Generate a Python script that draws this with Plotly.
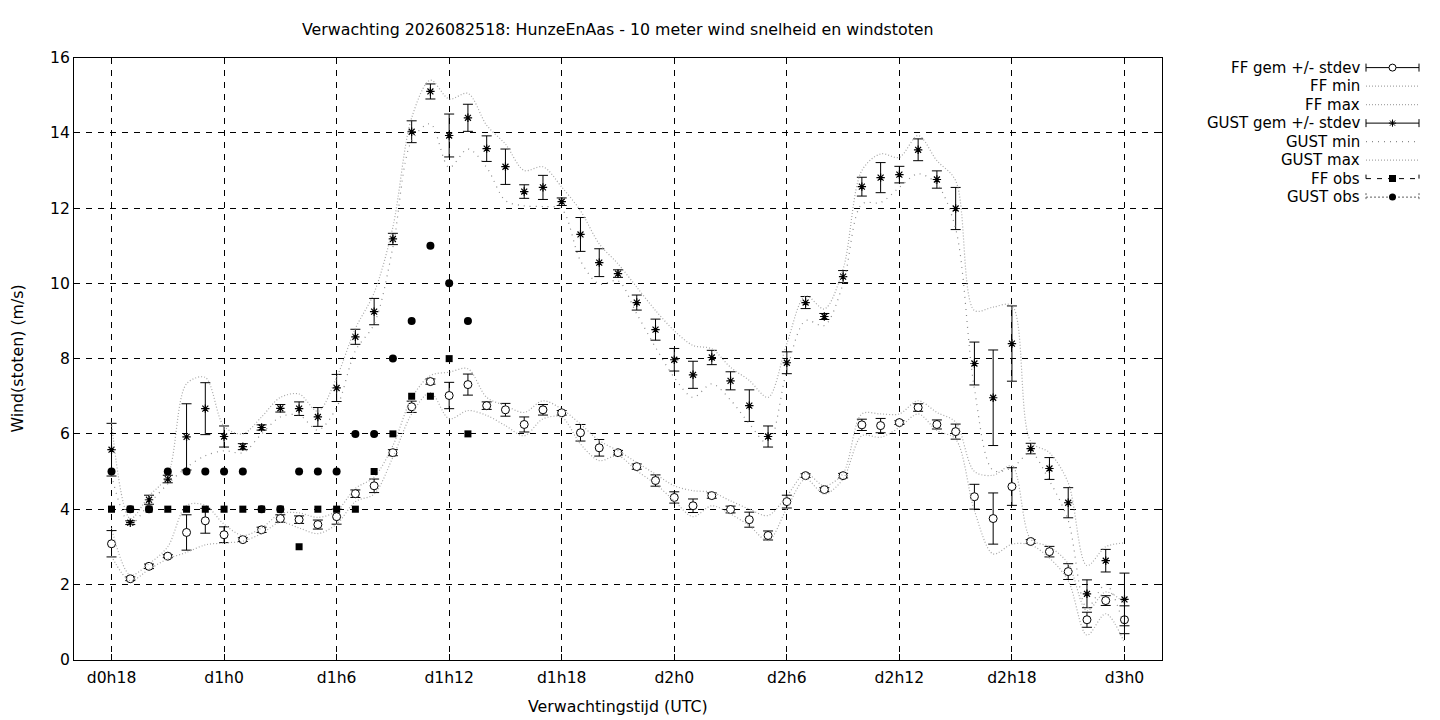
import plotly.graph_objects as go

# ---------------- data ----------------
hours = list(range(18, 73))  # forecast hour since d0h0

ff_mean = [3.08, 2.15, 2.48, 2.75, 3.38, 3.69, 3.32, 3.19, 3.45, 3.75,
           3.72, 3.59, 3.80, 4.41, 4.62, 5.50, 6.72, 7.39, 7.02, 7.31,
           6.75, 6.64, 6.25, 6.64, 6.56, 6.03, 5.63, 5.50, 5.13, 4.76,
           4.31, 4.09, 4.36, 3.99, 3.72, 3.30, 4.20, 4.89, 4.52, 4.89,
           6.24, 6.22, 6.30, 6.70, 6.25, 6.06, 4.33, 3.75, 4.60, 3.14,
           2.87, 2.34, 1.06, 1.57, 1.06]
ff_std = [0.35, 0.05, 0.06, 0.04, 0.47, 0.33, 0.21, 0.05, 0.07, 0.10,
          0.10, 0.12, 0.20, 0.10, 0.18, 0.08, 0.15, 0.07, 0.35, 0.28,
          0.10, 0.17, 0.20, 0.14, 0.06, 0.22, 0.22, 0.06, 0.07, 0.15,
          0.15, 0.18, 0.07, 0.09, 0.20, 0.12, 0.17, 0.05, 0.05, 0.06,
          0.15, 0.19, 0.05, 0.10, 0.12, 0.20, 0.33, 0.68, 0.50, 0.05,
          0.14, 0.21, 0.20, 0.13, 0.37]
ff_min = [2.75, 2.10, 2.40, 2.68, 2.85, 3.05, 3.10, 3.15, 3.35, 3.65,
          3.50, 3.35, 3.60, 4.20, 4.40, 5.38, 6.53, 7.10, 6.40, 6.62,
          6.49, 6.22, 5.95, 6.40, 6.44, 5.73, 5.29, 5.42, 5.02, 4.67,
          4.22, 3.80, 4.09, 3.87, 3.56, 3.16, 4.02, 4.80, 4.40, 4.80,
          5.95, 5.91, 6.17, 6.53, 6.09, 5.86, 3.96, 2.81, 3.07, 3.05,
          2.70, 2.10, 0.65, 1.22, 0.45]
ff_max = [3.50, 2.25, 2.55, 3.00, 4.10, 4.10, 3.60, 3.30, 3.50, 3.88,
          3.90, 3.78, 3.95, 4.55, 4.85, 5.69, 6.95, 7.55, 7.64, 7.73,
          6.97, 6.75, 6.57, 6.88, 6.66, 6.26, 5.82, 5.55, 5.24, 4.93,
          4.62, 4.49, 4.45, 4.22, 4.00, 3.83, 4.35, 4.95, 4.62, 4.95,
          6.53, 6.53, 6.53, 6.88, 6.57, 6.31, 5.00, 4.90, 5.15, 3.20,
          3.00, 2.55, 1.30, 1.80, 1.50]

gust_mean = [5.58, 3.64, 4.25, 4.80, 5.92, 6.67, 5.93, 5.66, 6.17, 6.68,
             6.67, 6.45, 7.22, 8.58, 9.25, 11.18, 14.03, 15.10, 13.93, 14.40,
             13.58, 13.10, 12.44, 12.55, 12.17, 11.30, 10.55, 10.26, 9.49, 8.77,
             7.97, 7.57, 8.03, 7.41, 6.75, 5.93, 7.89, 9.49, 9.12, 10.18,
             12.57, 12.81, 12.89, 13.55, 12.76, 11.99, 7.87, 6.96, 8.40, 5.61,
             5.08, 4.17, 1.75, 2.63, 1.60]
gust_std = [0.70, 0.05, 0.12, 0.10, 0.88, 0.69, 0.28, 0.08, 0.07, 0.10,
            0.18, 0.25, 0.36, 0.20, 0.35, 0.15, 0.29, 0.20, 0.57, 0.36,
            0.34, 0.47, 0.18, 0.32, 0.10, 0.45, 0.37, 0.10, 0.20, 0.28,
            0.30, 0.36, 0.19, 0.24, 0.42, 0.28, 0.29, 0.16, 0.08, 0.16,
            0.25, 0.40, 0.22, 0.29, 0.23, 0.56, 0.57, 1.27, 1.00, 0.14,
            0.29, 0.40, 0.37, 0.30, 0.70]
gust_min = [4.90, 3.60, 4.14, 4.67, 5.11, 5.42, 5.55, 5.50, 6.00, 6.45,
            6.50, 6.10, 6.70, 8.21, 8.92, 10.96, 13.79, 14.24, 13.08, 13.57,
            13.08, 12.20, 12.06, 12.04, 11.97, 10.60, 9.98, 10.07, 9.19, 8.30,
            7.50, 6.97, 7.33, 6.90, 6.27, 5.74, 7.69, 9.01, 8.88, 9.99,
            12.11, 12.15, 12.55, 12.91, 12.64, 11.45, 7.20, 5.03, 5.10, 5.50,
            4.75, 3.70, 1.38, 2.00, 0.85]
gust_max = [6.30, 3.75, 4.35, 4.90, 7.33, 7.50, 6.20, 6.00, 6.45, 6.97,
            7.06, 6.60, 7.50, 8.80, 9.75, 11.50, 14.40, 15.40, 14.90, 15.05,
            14.20, 13.70, 13.00, 13.10, 12.56, 11.93, 11.05, 10.52, 9.90, 9.28,
            8.74, 8.35, 8.26, 7.77, 7.42, 6.97, 8.40, 9.67, 9.32, 10.38,
            13.00, 13.44, 13.35, 13.93, 13.26, 12.73, 9.28, 9.37, 9.41, 5.80,
            5.50, 4.70, 2.50, 3.00, 3.10]

obs_hours = list(range(18, 38))
ff_obs = [4, 4, 4, 4, 4, 4, 4, 4, 4, 4, 3, 4, 4, 4, 5, 6, 7, 7, 8, 6]
gust_obs = [5, 4, 4, 5, 5, 5, 5, 5, 4, 4, 5, 5, 5, 6, 6, 8, 9, 11, 10, 9]

tick_hours = [18, 24, 30, 36, 42, 48, 54, 60, 66, 72]
tick_labels = ["d0h18", "d1h0", "d1h6", "d1h12", "d1h18",
               "d2h0", "d2h6", "d2h12", "d2h18", "d3h0"]

legend_labels = ["FF gem +/- stdev", "FF min", "FF max", "GUST gem +/- stdev",
                 "GUST min", "GUST max", "FF obs", "GUST obs"]

title_text = "Verwachting 2026082518: HunzeEnAas - 10 meter wind snelheid en windstoten"
xtitle = "Verwachtingstijd (UTC)"
ytitle = "Wind(stoten) (m/s)"

# ---------------- styles / geometry ----------------
OFFX = 8                      # page body margin (horizontal)
VY0, VK = 16.4, 0.975         # measured vertical mapping window_y = VY0 + VK * fig_y
W, H = 1440 - 2 * OFFX, 722
PL, PR, PT, PB = 74, 1162, 57, 659   # plot box in window pixels
FONT = "DejaVu Sans"
light = "#a8a8a8"
dark = "#8a8a8a"


def pxx(X):
    return (X - OFFX) / W


def pxy(Y):
    return 1 - ((Y - VY0) / VK) / H


env_styles = {
    "FF min": dict(color=light, dash="1px,2px"),
    "FF max": dict(color=light, dash="1px,2px"),
    "GUST min": dict(color=dark, dash="1px,5px"),
    "GUST max": dict(color=light, dash="1px,2px"),
}

fig = go.Figure()

fig.add_trace(go.Scatter(
    x=hours, y=ff_mean, mode="markers",
    marker=dict(symbol="circle", size=8, color="white", line=dict(color="black", width=1)),
    error_y=dict(type="data", array=ff_std, color="black", thickness=1, width=5),
    showlegend=False))
for name, ys in (("FF min", ff_min), ("FF max", ff_max)):
    st = env_styles[name]
    fig.add_trace(go.Scatter(x=hours, y=ys, mode="lines",
                             line=dict(color=st["color"], dash=st["dash"], width=1.2,
                                       shape="spline", smoothing=0.9),
                             showlegend=False))
fig.add_trace(go.Scatter(
    x=hours, y=gust_mean, mode="markers",
    marker=dict(symbol="asterisk-open", size=7, color="black", line=dict(color="black", width=1.2)),
    error_y=dict(type="data", array=gust_std, color="black", thickness=1, width=5),
    showlegend=False))
for name, ys in (("GUST min", gust_min), ("GUST max", gust_max)):
    st = env_styles[name]
    fig.add_trace(go.Scatter(x=hours, y=ys, mode="lines",
                             line=dict(color=st["color"], dash=st["dash"], width=1.2,
                                       shape="spline", smoothing=0.9),
                             showlegend=False))
fig.add_trace(go.Scatter(x=obs_hours, y=ff_obs, mode="markers",
                         marker=dict(symbol="square", size=7, color="black"),
                         showlegend=False))
fig.add_trace(go.Scatter(x=obs_hours, y=gust_obs, mode="markers",
                         marker=dict(symbol="circle", size=8, color="black"),
                         showlegend=False))

# ---------------- gnuplot-like key on a hidden axis ----------------
row_y = [67, 85.5, 104, 122.5, 141, 159.5, 178, 196.5]
sx0, sx1 = 1366, 1419
sxm = (sx0 + sx1) / 2
leg_common = dict(xaxis="x2", yaxis="y2", showlegend=False, hoverinfo="skip")

for i, lab in enumerate(legend_labels):
    r = row_y[i]
    fig.add_annotation(text=lab, xref="paper", yref="paper", x=pxx(sx0 - 4), y=pxy(r),
                       xanchor="right", yanchor="middle", showarrow=False,
                       font=dict(family=FONT, size=15, color="black"))
    if lab in ("FF gem +/- stdev", "GUST gem +/- stdev"):
        fig.add_trace(go.Scatter(x=[sx0, sx1], y=[r, r], mode="lines",
                                 line=dict(color="black", width=1), **leg_common))
        fig.add_trace(go.Scatter(x=[sx0, sx0, None, sx1, sx1], y=[r - 4, r + 4, None, r - 4, r + 4],
                                 mode="lines", line=dict(color="black", width=1), **leg_common))
        if lab.startswith("FF"):
            mk = dict(symbol="circle", size=7, color="white", line=dict(color="black", width=1))
        else:
            mk = dict(symbol="asterisk-open", size=6, color="black", line=dict(color="black", width=1))
        fig.add_trace(go.Scatter(x=[sxm], y=[r], mode="markers", marker=mk, **leg_common))
    elif lab in env_styles:
        st = env_styles[lab]
        fig.add_trace(go.Scatter(x=[sx0, sx1], y=[r, r], mode="lines",
                                 line=dict(color=st["color"], dash=st["dash"], width=1.2), **leg_common))
    elif lab == "FF obs":
        fig.add_trace(go.Scatter(x=[sx0, sx1], y=[r, r], mode="lines",
                                 line=dict(color="black", dash="5px,6px", width=1), **leg_common))
        fig.add_trace(go.Scatter(x=[sx0, sx0, None, sx1, sx1], y=[r - 4, r, None, r - 4, r],
                                 mode="lines", line=dict(color="black", width=1), **leg_common))
        fig.add_trace(go.Scatter(x=[sxm], y=[r], mode="markers",
                                 marker=dict(symbol="square", size=7, color="black"), **leg_common))
    else:
        fig.add_trace(go.Scatter(x=[sx0, sx1], y=[r, r], mode="lines",
                                 line=dict(color="#606060", dash="2px,2px", width=1), **leg_common))
        fig.add_trace(go.Scatter(x=[sx0, sx0, None, sx1, sx1], y=[r - 4, r + 4, None, r - 4, r + 4],
                                 mode="lines", line=dict(color="#606060", dash="2px,2px", width=1),
                                 **leg_common))
        fig.add_trace(go.Scatter(x=[sxm], y=[r], mode="markers",
                                 marker=dict(symbol="circle", size=7, color="black"), **leg_common))

# ---------------- layout ----------------
axis_common = dict(showline=True, linecolor="black", linewidth=1, mirror="allticks",
                   ticks="inside", ticklen=6, tickcolor="black", tickwidth=1,
                   showgrid=True, gridcolor="black", gridwidth=1, griddash="6px,6px",
                   zeroline=False, tickfont=dict(family=FONT, size=15.6, color="black"))

fig.update_layout(
    width=W, height=H, autosize=False,
    margin=dict(l=0, r=0, t=0, b=0),
    paper_bgcolor="white", plot_bgcolor="white",
    font=dict(family=FONT, size=15, color="black"),
    xaxis=dict(domain=[pxx(PL), pxx(PR)], range=[16, 74], tickvals=tick_hours,
               ticktext=tick_labels, ticklabelstandoff=4, **axis_common),
    yaxis=dict(domain=[pxy(PB), pxy(PT)], range=[0, 16], dtick=2, tick0=0,
               **axis_common),
    xaxis2=dict(domain=[pxx(1355), pxx(1430)], range=[1355, 1430], visible=False,
                fixedrange=True, anchor="y2"),
    yaxis2=dict(domain=[pxy(215), pxy(50)], range=[215, 50], visible=False, fixedrange=True,
                anchor="x2"),
    hovermode=False,
)

fig.add_annotation(text=title_text, xref="paper", yref="paper", x=pxx((PL + PR) / 2), y=pxy(29),
                   xanchor="center", yanchor="middle", showarrow=False,
                   font=dict(family=FONT, size=15.8, color="black"))
fig.add_annotation(text=xtitle, xref="paper", yref="paper", x=pxx((PL + PR) / 2), y=pxy(706),
                   xanchor="center", yanchor="middle", showarrow=False,
                   font=dict(family=FONT, size=15.8, color="black"))
fig.add_annotation(text=ytitle, xref="paper", yref="paper", x=pxx(18), y=pxy((PT + PB) / 2),
                   xanchor="center", yanchor="middle", showarrow=False, textangle=-90,
                   font=dict(family=FONT, size=15.8, color="black"))

fig.write_html("out.html")
